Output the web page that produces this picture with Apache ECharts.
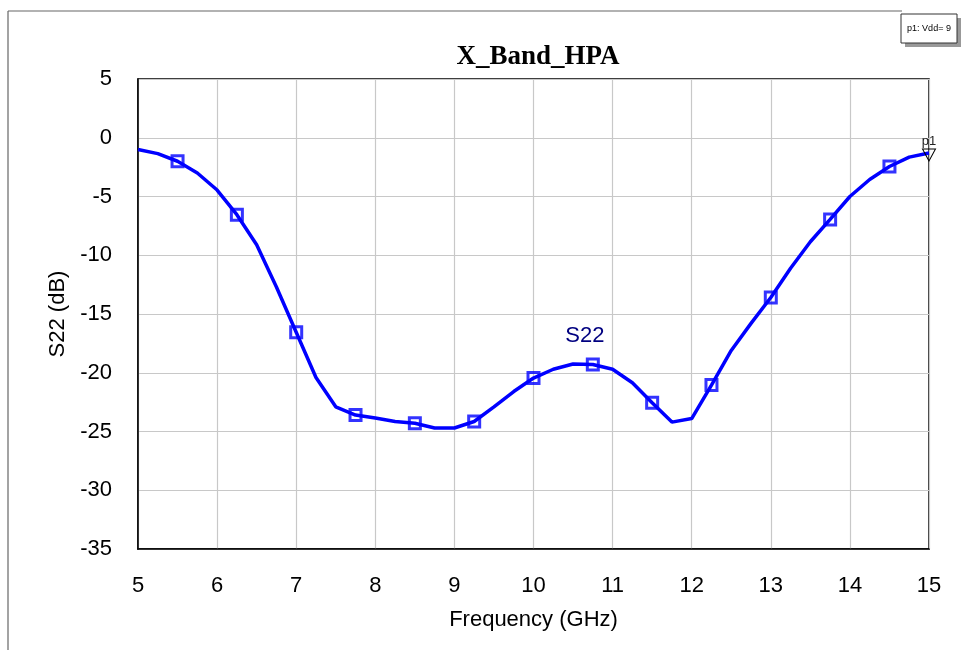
<!DOCTYPE html>
<html>
<head>
<meta charset="utf-8">
<script src="https://cdn.jsdelivr.net/npm/echarts@6/dist/echarts.min.js"></script>
<style>html,body{margin:0;padding:0;background:#fff}#c{width:964px;height:650px}</style>
</head>
<body>
<div id="c"></div>
<script>
// Frequency (GHz) sample points
var freq = [5, 5.25, 5.5, 5.75, 6, 6.25, 6.5, 6.75, 7, 7.25, 7.5, 7.75, 8, 8.25, 8.5, 8.75, 9, 9.25, 9.5, 9.75,
            10, 10.25, 10.5, 10.75, 11, 11.25, 11.5, 11.75, 12, 12.25, 12.5, 12.75, 13, 13.25, 13.5, 13.75, 14, 14.25, 14.5, 14.75, 15];
// S22 (dB) values
var s22 = [-1.0, -1.35, -2.0, -3.0, -4.45, -6.55, -9.1, -12.7, -16.55, -20.4, -22.9, -23.6, -23.85, -24.15, -24.3, -24.7, -24.7, -24.15, -22.9, -21.6,
           -20.45, -19.7, -19.25, -19.3, -19.7, -20.85, -22.55, -24.2, -23.9, -21.05, -18.1, -15.8, -13.6, -11.1, -8.85, -6.95, -5.0, -3.55, -2.45, -1.65, -1.3];
// Frequencies that carry square markers
var markerFreq = [5.5, 6.25, 7, 7.75, 8.5, 9.25, 10, 10.75, 11.5, 12.25, 13, 13.75, 14.5];
var xTicks = [5, 6, 7, 8, 9, 10, 11, 12, 13, 14, 15];
var yTicks = [-35, -30, -25, -20, -15, -10, -5, 0, 5];

var lineData = freq.map(function (f, i) { return [f, s22[i]]; });
var markerData = markerFreq.map(function (f) { return [f, s22[freq.indexOf(f)]]; });
var lastPoint = lineData[lineData.length - 1];

var font = 'Liberation Sans, Arial, sans-serif';
var chart = echarts.init(document.getElementById('c'), null, { renderer: 'canvas' });
chart.setOption({
  animation: false,
  backgroundColor: '#fff',
  title: {
    text: 'X_Band_HPA',
    left: 533, top: 39, textAlign: 'center',
    textStyle: { fontFamily: 'Liberation Serif, Times New Roman, serif', fontWeight: 'bold', fontSize: 27, color: '#000' }
  },
  grid: { left: 138, right: 35, top: 79, bottom: 101, show: true, borderColor: '#000', borderWidth: 1.5 },
  xAxis: {
    type: 'value', min: xTicks[0], max: xTicks[xTicks.length - 1], interval: 1,
    name: 'Frequency (GHz)', nameLocation: 'middle', nameGap: 60,
    nameTextStyle: { fontFamily: font, fontSize: 22, color: '#000' },
    axisLine: { show: true, onZero: false, lineStyle: { color: '#000', width: 1.5 } },
    axisTick: { show: false },
    axisLabel: { fontFamily: font, fontSize: 22, color: '#000', margin: 26 },
    splitLine: { show: true, lineStyle: { color: '#c8c8c8', width: 1.2 } }
  },
  yAxis: {
    type: 'value', min: yTicks[0], max: yTicks[yTicks.length - 1], interval: 5,
    name: 'S22 (dB)', nameLocation: 'middle', nameGap: 56, nameRotate: 90,
    nameTextStyle: { fontFamily: font, fontSize: 22, color: '#000' },
    axisLine: { show: true, onZero: false, lineStyle: { color: '#000', width: 1.5 } },
    axisTick: { show: false },
    axisLabel: { fontFamily: font, fontSize: 22, color: '#000', margin: 26 },
    splitLine: { show: true, lineStyle: { color: '#c8c8c8', width: 1.2 } }
  },
  series: [
    {
      type: 'line', data: lineData, showSymbol: false, smooth: false,
      lineStyle: { color: '#0000ff', width: 3.5 },
      markPoint: {
        silent: true,
        data: [
          { coord: lastPoint, symbol: 'triangle', symbolRotate: 180, symbolSize: [13, 12], symbolOffset: [0, 2],
            itemStyle: { color: 'rgba(255,255,255,0)', borderColor: '#000', borderWidth: 1 },
            label: { show: true, formatter: 'p1', position: 'top', distance: 1, fontFamily: font, fontSize: 13, color: '#222' } },
          { coord: [10.65, -16.9], symbol: 'rect', symbolSize: 1,
            itemStyle: { color: 'rgba(255,255,255,0)' },
            label: { show: true, formatter: 'S22', position: 'inside', fontFamily: font, fontSize: 22, color: '#000080' } }
        ]
      }
    },
    {
      type: 'scatter', data: markerData, symbol: 'rect', symbolSize: 11,
      itemStyle: { color: 'rgba(255,255,255,0)', borderColor: '#0000ff', borderWidth: 3 }
    }
  ],
  graphic: [
    { type: 'line', shape: { x1: 8, y1: 11, x2: 8, y2: 650 }, style: { stroke: '#666', lineWidth: 1.2 } },
    { type: 'line', shape: { x1: 8, y1: 11, x2: 902, y2: 11 }, style: { stroke: '#666', lineWidth: 1.2 } },
    { type: 'rect', shape: { x: 905, y: 18, width: 56, height: 29 }, style: { fill: '#999', stroke: null } },
    { type: 'rect', shape: { x: 901, y: 14, width: 56, height: 29 }, style: { fill: '#fff', stroke: '#333', lineWidth: 1 } },
    { type: 'text', x: 929, y: 28.5, style: { text: 'p1: Vdd= 9', fontFamily: font, fontSize: 9, fill: '#000', align: 'center', verticalAlign: 'middle' } }
  ]
});
</script>
</body>
</html>
